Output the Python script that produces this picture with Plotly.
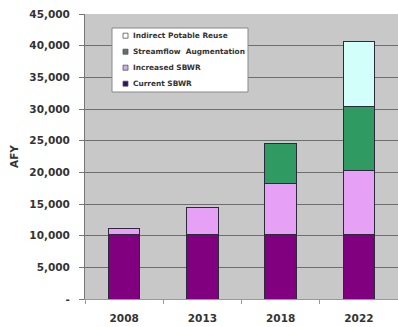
import plotly.graph_objects as go

years = ["2008", "2013", "2018", "2022"]
current_sbwr = [10200, 10200, 10200, 10200]
increased_sbwr = [900, 4200, 8050, 10100]
streamflow_aug = [0, 0, 6350, 10100]
indirect_potable = [0, 0, 0, 10200]

y_ticks = [0, 5000, 10000, 15000, 20000, 25000, 30000, 35000, 40000, 45000]
y_ticktext = ["-", "5,000", "10,000", "15,000", "20,000", "25,000", "30,000", "35,000", "40,000", "45,000"]

series = [
    ("Current SBWR", current_sbwr, "#800080"),
    ("Increased SBWR", increased_sbwr, "#E6A0F5"),
    ("Streamflow  Augmentation", streamflow_aug, "#2F9A62"),
    ("Indirect Potable Reuse", indirect_potable, "#D2FFFA"),
]
legend_swatch = ["#2A1060", "#C8B0F0", "#607070", "#FFFFFF"]

fig = go.Figure()
for name, vals, col in series:
    fig.add_trace(go.Bar(
        x=years, y=vals, name=name, showlegend=False,
        marker=dict(color=col, line=dict(color="#2A2A3A", width=1)),
    ))

font_main = "DejaVu Sans"
W, H = 398, 327
ml, mr, mt, mb = 85, 0, 14, 28
pw, ph = W - ml - mr, H - mt - mb

def px(x):
    return (x - ml) / pw

def py(y):
    return (H - mb - y) / ph

# manual legend (Excel-style compact box)
shapes = [dict(type="rect", xref="paper", yref="paper",
               x0=px(112), x1=px(248), y0=py(92), y1=py(28),
               fillcolor="white", line=dict(color="#888", width=1), layer="above")]
annotations = []
for i, (name, _, _) in enumerate(reversed(series)):
    yc = 35.7 + 16 * i
    sw = legend_swatch[len(series) - 1 - i]
    shapes.append(dict(type="rect", xref="paper", yref="paper",
                       x0=px(123), x1=px(128), y0=py(yc + 2.5), y1=py(yc - 2.5),
                       fillcolor=sw, line=dict(color="#555", width=0.8), layer="above"))
    annotations.append(dict(xref="paper", yref="paper", x=px(130.5), y=py(yc),
                            text=name, showarrow=False, xanchor="left", yanchor="middle",
                            font=dict(family=font_main, size=7.4, color="#333", weight="bold")))

fig.update_layout(
    barmode="stack",
    bargap=0.6,
    width=W, height=H,
    margin=dict(l=ml, r=mr, t=mt, b=mb),
    paper_bgcolor="white",
    plot_bgcolor="#C8C8C8",
    font=dict(family=font_main, size=10, color="#222"),
    showlegend=False,
    shapes=shapes,
    annotations=annotations,
)
fig.update_yaxes(
    range=[0, 45000],
    tickvals=y_ticks, ticktext=y_ticktext,
    tickfont=dict(family=font_main, size=10.5, color="#333", weight="bold"),
    showgrid=True, gridcolor="#6E6E6E", gridwidth=1,
    ticks="outside", ticklen=5, tickcolor="#777",
    ticklabelstandoff=7,
    showline=True, linecolor="#777", linewidth=1,
    zeroline=False,
    title=dict(text="AFY", font=dict(family=font_main, size=10.5, color="#333", weight="bold"), standoff=8),
)
fig.update_xaxes(
    tickfont=dict(family=font_main, size=10.5, color="#333", weight="bold"),
    showgrid=False,
    ticks="outside", ticklen=4, tickcolor="#999", tickson="boundaries",
    ticklabelstandoff=9,
    showline=True, linecolor="#999", linewidth=1,
)
fig.write_html("out.html")
